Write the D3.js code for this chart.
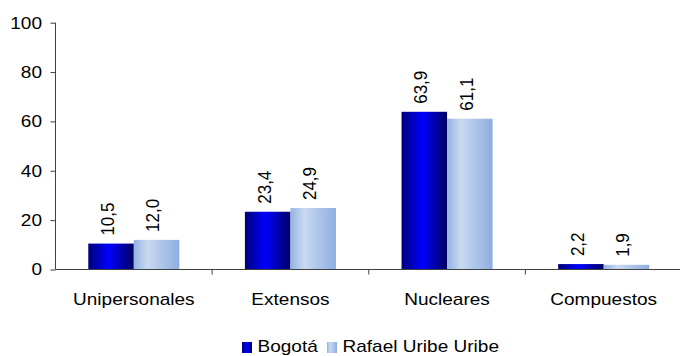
<!DOCTYPE html>
<html>
<head>
<meta charset="utf-8">
<script src="https://cdn.jsdelivr.net/npm/d3@7"></script>
<style>
  html, body { margin: 0; padding: 0; background: #fff; }
  svg { display: block; font-family: Arial, "Liberation Sans", sans-serif; }
</style>
</head>
<body>
<svg id="chart" width="680" height="356"></svg>
<script>
const categories = ["Unipersonales", "Extensos", "Nucleares", "Compuestos"];
const seriesNames = ["Bogotá", "Rafael Uribe Uribe"];
const bogota = [10.5, 23.4, 63.9, 2.2];
const rafaelUribe = [12.0, 24.9, 61.1, 1.9];
const yTicks = [0, 20, 40, 60, 80, 100];

const seriesValues = [bogota, rafaelUribe];
const data = categories.map((c, i) => ({
  category: c,
  values: seriesNames.map((s, j) => ({ series: s, value: seriesValues[j][i] }))
}));

const svg = d3.select("#chart");
const mLeft = 55.5, mRight = 682, mTop = 22.7, mBottom = 269.5;
const sx = 1.12; // horizontal text stretch seen in the reference

const defs = svg.append("defs");
const g1 = defs.append("linearGradient").attr("id", "gradB").attr("x1", "0%").attr("x2", "100%").attr("y1", "0%").attr("y2", "0%");
[["0%", "#000078"], ["45%", "#0000FF"], ["100%", "#000060"]].forEach(([o, c]) => g1.append("stop").attr("offset", o).attr("stop-color", c));
const g2 = defs.append("linearGradient").attr("id", "gradR").attr("x1", "0%").attr("x2", "100%").attr("y1", "0%").attr("y2", "0%");
[["0%", "#92B2E0"], ["30%", "#C9D9F1"], ["100%", "#8EAEE0"]].forEach(([o, c]) => g2.append("stop").attr("offset", o).attr("stop-color", c));
const fills = { "Bogotá": "url(#gradB)", "Rafael Uribe Uribe": "url(#gradR)" };

const x0 = d3.scaleBand().domain(categories).range([mLeft, mRight]).padding(0);
const x1 = d3.scaleBand().domain(seriesNames).range([0, x0.bandwidth()]).paddingInner(0).paddingOuter(0.72);
const y = d3.scaleLinear().domain([0, 100]).range([mBottom, mTop]);

// Y axis
const yAxis = svg.append("g").attr("transform", `translate(${mLeft},0)`)
  .call(d3.axisLeft(y).tickValues(yTicks).tickSize(5).tickPadding(8).tickFormat(d3.format("d")));
yAxis.select(".domain").attr("stroke", "#404040").attr("d", `M0,${mTop}V${mBottom}`);
yAxis.selectAll(".tick line").attr("stroke", "#404040");
yAxis.selectAll(".tick text")
  .attr("x", 0)
  .attr("transform", `translate(-13.5,0) scale(${sx},1)`)
  .attr("font-size", "17px").attr("fill", "#000")
  .attr("font-family", "Arial, 'Liberation Sans', sans-serif");

// Bars
const groups = svg.append("g").selectAll("g").data(data).join("g")
  .attr("transform", d => `translate(${x0(d.category)},0)`);
groups.selectAll("rect").data(d => d.values).join("rect")
  .attr("x", d => x1(d.series))
  .attr("y", d => y(d.value))
  .attr("width", x1.bandwidth())
  .attr("height", d => y(0) - y(d.value))
  .attr("fill", d => fills[d.series]);
groups.selectAll("text").data(d => d.values).join("text")
  .attr("transform", d => `translate(${x1(d.series) + x1.bandwidth() / 2},${y(d.value) - 8}) scale(${sx},1) rotate(-90)`)
  .attr("dy", "0.15em")
  .attr("font-size", "17px")
  .attr("text-anchor", "start")
  .attr("fill", "#000")
  .text(d => d.value.toFixed(1).replace(".", ","));

// X axis
const xAxis = svg.append("g").attr("transform", `translate(0,${mBottom})`);
xAxis.append("line").attr("x1", mLeft).attr("x2", mRight).attr("y1", 0).attr("y2", 0).attr("stroke", "#404040");
const boundaries = categories.map(c => x0(c)).concat([x0(categories[categories.length - 1]) + x0.bandwidth()]);
xAxis.selectAll("line.tk").data(boundaries.slice(1)).join("line").attr("class", "tk")
  .attr("x1", d => d).attr("x2", d => d).attr("y1", 0).attr("y2", 5).attr("stroke", "#404040");
xAxis.selectAll("text").data(categories).join("text")
  .attr("transform", d => `translate(${x0(d) + x0.bandwidth() / 2},35.5) scale(${sx},1)`)
  .attr("text-anchor", "middle")
  .attr("font-size", "17px")
  .attr("fill", "#000")
  .text(d => d);

// Legend
const legend = svg.append("g");
const legendX = [242, 327];
seriesNames.forEach((s, i) => {
  legend.append("rect").attr("x", legendX[i]).attr("y", 342).attr("width", 10).attr("height", 11).attr("fill", fills[s]);
  legend.append("text")
    .attr("transform", `translate(${legendX[i] + 15.5},352) scale(${sx},1)`)
    .attr("font-size", "17px").attr("fill", "#000").text(s);
});
</script>
</body>
</html>
